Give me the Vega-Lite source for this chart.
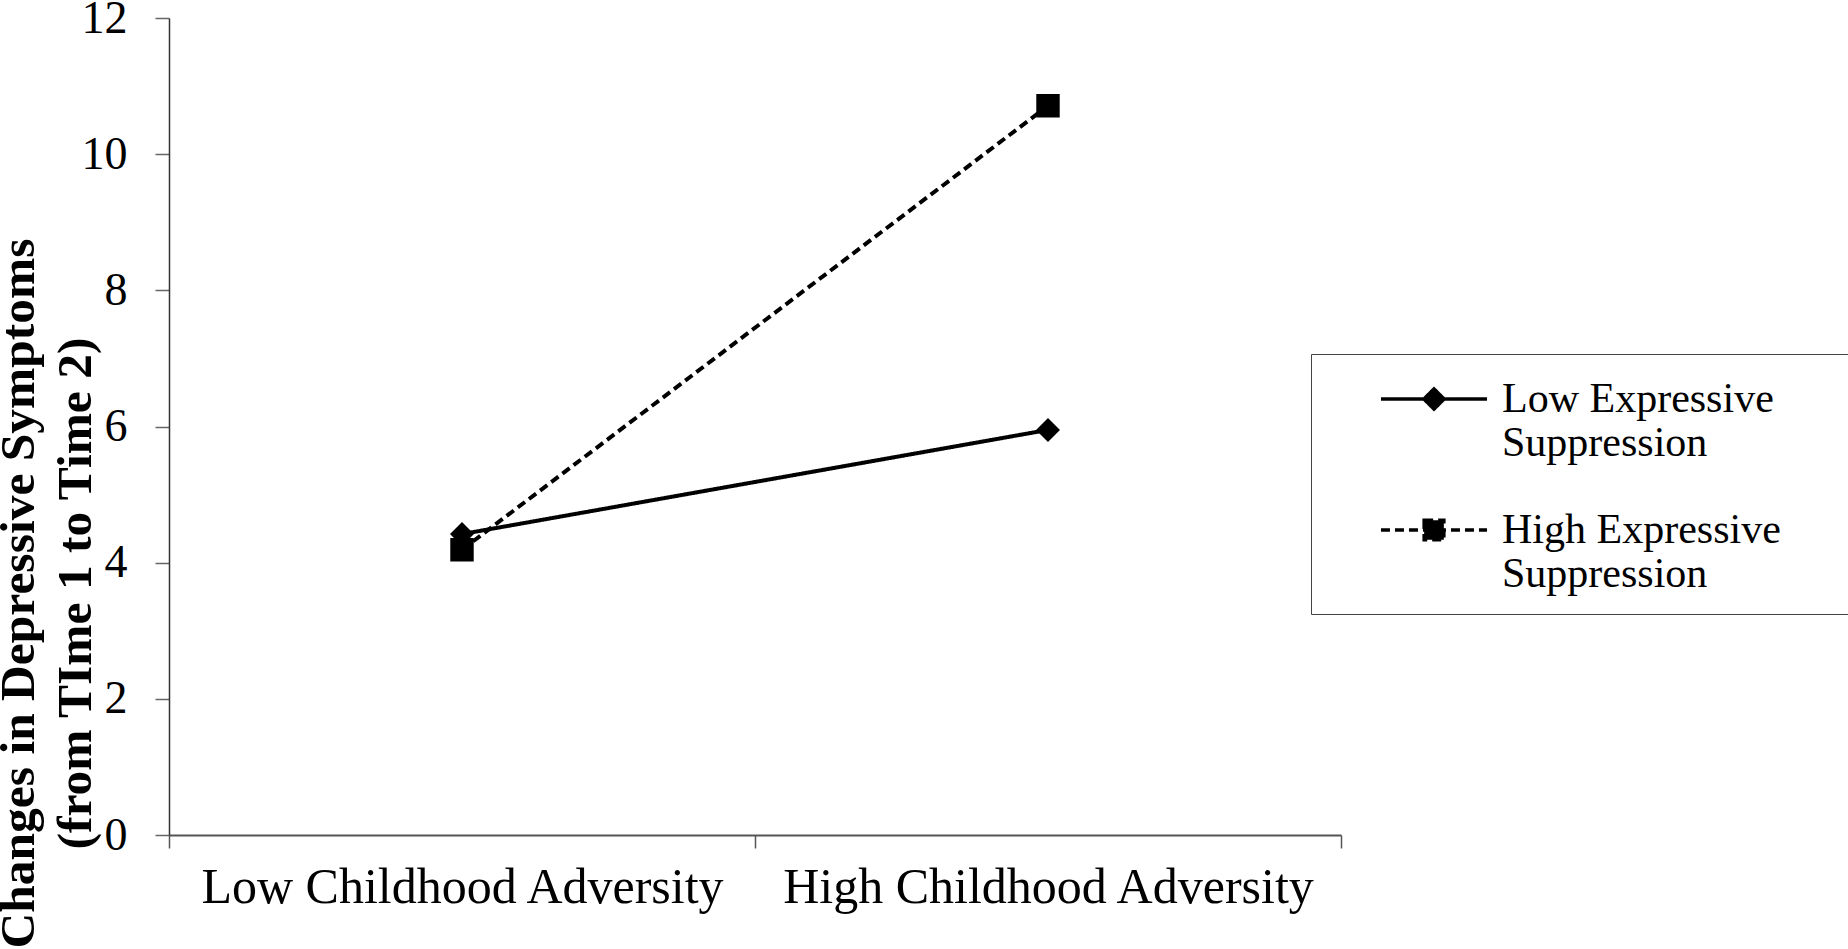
{
  "$schema": "https://vega.github.io/schema/vega-lite/v6.json",
  "autosize": "none",
  "width": 1172,
  "height": 817,
  "padding": {"left": 169, "top": 18, "right": 507, "bottom": 114},
  "background": "white",
  "config": {
    "view": {"stroke": null},
    "font": "Liberation Serif"
  },
  "data": {
    "values": [
      {"adversity": "Low Childhood Adversity", "group": "Low Expressive Suppression", "change": 4.42},
      {"adversity": "High Childhood Adversity", "group": "Low Expressive Suppression", "change": 5.95},
      {"adversity": "Low Childhood Adversity", "group": "High Expressive Suppression", "change": 4.19},
      {"adversity": "High Childhood Adversity", "group": "High Expressive Suppression", "change": 10.71}
    ]
  },
  "encoding": {
    "x": {
      "field": "adversity",
      "type": "nominal",
      "sort": ["Low Childhood Adversity", "High Childhood Adversity"],
      "scale": {"type": "band", "paddingInner": 0, "paddingOuter": 0},
      "axis": {
        "title": null,
        "labelAngle": 0,
        "tickBand": "extent",
        "tickSize": 13,
        "tickColor": "#555",
        "tickWidth": 1.5,
        "domainColor": "#555",
        "domainWidth": 2,
        "labelFont": "Liberation Serif",
        "labelFontSize": 50,
        "labelColor": "black",
        "labelPadding": 14,
        "labelLimit": 1000
      }
    },
    "y": {
      "field": "change",
      "type": "quantitative",
      "scale": {"domain": [0, 12], "nice": false},
      "axis": {
        "values": [0, 2, 4, 6, 8, 10, 12],
        "grid": false,
        "tickSize": 14,
        "tickColor": "#666",
        "tickWidth": 1.5,
        "domainColor": "#333",
        "domainWidth": 1.5,
        "labelFont": "Liberation Serif",
        "labelFontSize": 46,
        "labelColor": "black",
        "labelPadding": 28,
        "labelLimit": 1000,
        "title": ["Changes in Depressive Symptoms", "(from TIme 1 to Time 2)"],
        "titleFont": "Liberation Serif",
        "titleFontSize": 49.5,
        "titleFontWeight": "bold",
        "titleColor": "black",
        "titleAngle": -90,
        "titleAlign": "center",
        "titleBaseline": "top",
        "titleLineHeight": 57,
        "titleX": -175,
        "titleY": 575
      }
    }
  },
  "layer": [
    {
      "mark": {"type": "line", "strokeWidth": 4, "fill": "black"},
      "encoding": {
        "stroke": {
          "field": "group",
          "type": "nominal",
          "scale": {
            "domain": ["Low Expressive Suppression", "High Expressive Suppression"],
            "range": ["black", "black"]
          },
          "legend": {
            "title": " ",
            "titleOrient": "right",
            "titlePadding": 49,
            "titleFontSize": 20,
            "orient": "none",
            "legendX": 1142,
            "legendY": 336,
            "padding": 19,
            "strokeColor": "#444",
            "symbolSize": 2304,
            "symbolOffset": 78,
            "symbolFillColor": "black",
            "symbolStrokeColor": "black",
            "symbolStrokeWidth": 3.5,
            "symbolOpacity": 1,
            "labelOffset": 42,
            "labelFont": "Liberation Serif",
            "labelFontSize": 42,
            "labelColor": "black",
            "labelLineHeight": 48,
            "labelLimit": 1000,
            "rowPadding": 40,
            "labelExpr": "datum.label == 'Low Expressive Suppression' ? ['Low Expressive', 'Suppression'] : ['High Expressive', 'Suppression']"
          }
        },
        "strokeDash": {
          "field": "group",
          "type": "nominal",
          "scale": {
            "domain": ["Low Expressive Suppression", "High Expressive Suppression"],
            "range": [[1, 0], [9, 5]]
          },
          "legend": {
            "title": " ",
            "titleOrient": "right",
            "titlePadding": 49,
            "titleFontSize": 20,
            "orient": "none",
            "legendX": 1142,
            "legendY": 336,
            "padding": 19,
            "strokeColor": "#444",
            "symbolSize": 2304,
            "symbolOffset": 78,
            "symbolFillColor": "black",
            "symbolStrokeColor": "black",
            "symbolStrokeWidth": 3.5,
            "symbolOpacity": 1,
            "labelOffset": 42,
            "labelFont": "Liberation Serif",
            "labelFontSize": 42,
            "labelColor": "black",
            "labelLineHeight": 48,
            "labelLimit": 1000,
            "rowPadding": 40,
            "labelExpr": "datum.label == 'Low Expressive Suppression' ? ['Low Expressive', 'Suppression'] : ['High Expressive', 'Suppression']"
          }
        }
      }
    },
    {
      "mark": {"type": "point", "filled": true, "size": 3265, "color": "black", "opacity": 1},
      "encoding": {
        "shape": {
          "field": "group",
          "type": "nominal",
          "scale": {
            "domain": ["Low Expressive Suppression", "High Expressive Suppression"],
            "range": [
              "M-2.21,0L2.21,0M0,-0.42L0.42,0L0,0.42L-0.42,0Z",
              "M-2.21,0L2.21,0M-0.41,-0.41L0.41,-0.41L0.41,0.41L-0.41,0.41Z"
            ]
          },
          "legend": {
            "title": " ",
            "titleOrient": "right",
            "titlePadding": 49,
            "titleFontSize": 20,
            "orient": "none",
            "legendX": 1142,
            "legendY": 336,
            "padding": 19,
            "strokeColor": "#444",
            "symbolSize": 2304,
            "symbolOffset": 78,
            "symbolFillColor": "black",
            "symbolStrokeColor": "black",
            "symbolStrokeWidth": 3.5,
            "symbolOpacity": 1,
            "labelOffset": 42,
            "labelFont": "Liberation Serif",
            "labelFontSize": 42,
            "labelColor": "black",
            "labelLineHeight": 48,
            "labelLimit": 1000,
            "rowPadding": 40,
            "labelExpr": "datum.label == 'Low Expressive Suppression' ? ['Low Expressive', 'Suppression'] : ['High Expressive', 'Suppression']"
          }
        }
      }
    }
  ]
}
